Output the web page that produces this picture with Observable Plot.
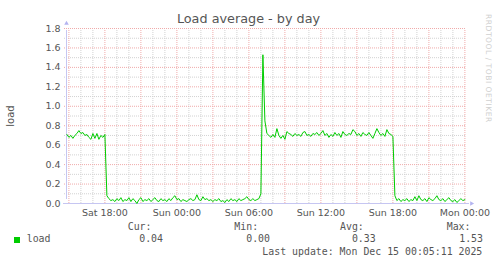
<!DOCTYPE html>
<html><head><meta charset="utf-8">
<script src="https://cdn.jsdelivr.net/npm/d3@7"></script>
<script src="https://cdn.jsdelivr.net/npm/@observablehq/plot@0.6"></script>
<style>
body{margin:0;background:#fff;}
#wrap{position:relative;width:497px;height:264px;background:#fff;overflow:hidden;font-family:"DejaVu Sans",sans-serif;color:#555;}
#title{position:absolute;left:0;width:497px;top:11px;text-align:center;font-size:12.8px;line-height:16px;color:#555;}
#chart{position:absolute;left:0;top:20px;}
#ylab{position:absolute;left:10px;top:116px;transform:translate(-50%,-50%) rotate(-90deg);font-size:10px;white-space:nowrap;}
#wm{position:absolute;left:484px;top:14px;writing-mode:vertical-rl;font-size:7.6px;letter-spacing:0.5px;color:#d0d0d0;white-space:nowrap;}
.mono{position:absolute;font-family:"DejaVu Sans Mono",monospace;font-size:9.9px;line-height:12px;white-space:pre;color:#555;}
#sw{position:absolute;left:14px;top:237px;width:6px;height:6px;background:#00cc00;}
</style>
</head><body>
<div id="wrap">
  <div id="title"></div>
  <div id="ylab"></div>
  <div id="wm"></div>
  <div id="chart"></div>
  <div id="sw"></div>
</div>
<script>
// ---- data (5-min RRD samples read every 10 minutes, starting Sat 13 Dec 2025 14:50 UTC)
const titleText = "Load average - by day";
const yLabel = "load";
const watermark = "RRDTOOL / TOBI OETIKER";
const seriesName = "load";
const sampleStart = Date.UTC(2025, 11, 13, 14, 50);
const sampleStepMin = 10;
const load = [
  0.71,0.68,0.70,0.67,0.70,0.72,0.75,0.72,0.73,0.70,
  0.71,0.68,0.66,0.72,0.67,0.72,0.66,0.70,0.68,0.71,
  0.08,0.05,0.03,0.04,0.02,0.05,0.03,0.06,0.02,0.04,
  0.03,0.06,0.02,0.05,0.03,0.00,0.04,0.06,0.02,0.04,
  0.03,0.05,0.02,0.04,0.06,0.03,0.02,0.05,0.03,0.04,
  0.02,0.05,0.03,0.06,0.08,0.04,0.05,0.02,0.04,0.03,
  0.02,0.04,0.05,0.03,0.04,0.09,0.04,0.03,0.07,0.04,
  0.05,0.03,0.04,0.02,0.04,0.03,0.05,0.02,0.03,0.01,
  0.04,0.02,0.05,0.03,0.04,0.02,0.05,0.03,0.04,0.05,
  0.07,0.04,0.03,0.05,0.03,0.04,0.05,0.10,1.53,0.85,
  0.72,0.70,0.68,0.71,0.68,0.77,0.70,0.67,0.70,0.66,
  0.74,0.72,0.71,0.69,0.72,0.70,0.71,0.69,0.73,0.74,
  0.70,0.71,0.69,0.72,0.71,0.73,0.70,0.72,0.75,0.70,
  0.72,0.68,0.71,0.69,0.73,0.70,0.72,0.68,0.74,0.71,
  0.70,0.72,0.71,0.76,0.74,0.70,0.72,0.69,0.73,0.71,
  0.70,0.73,0.70,0.67,0.72,0.77,0.73,0.70,0.72,0.69,
  0.76,0.72,0.71,0.69,0.08,0.03,0.05,0.02,0.04,0.03,
  0.05,0.02,0.04,0.03,0.07,0.03,0.08,0.04,0.03,0.05,
  0.02,0.06,0.04,0.03,0.05,0.08,0.04,0.03,0.05,0.02,
  0.04,0.06,0.03,0.02,0.04,0.01,0.03,0.05,0.03,0.04
];
const xStart = new Date(Date.UTC(2025, 11, 13, 14, 48));
const xEnd = new Date(Date.UTC(2025, 11, 15, 0, 8));
const xTicks = [
  new Date(Date.UTC(2025, 11, 13, 18)), new Date(Date.UTC(2025, 11, 14, 0)),
  new Date(Date.UTC(2025, 11, 14, 6)), new Date(Date.UTC(2025, 11, 14, 12)),
  new Date(Date.UTC(2025, 11, 14, 18)), new Date(Date.UTC(2025, 11, 15, 0))
];
const xTickLabels = ["Sat 18:00", "Sun 00:00", "Sun 06:00", "Sun 12:00", "Sun 18:00", "Mon 00:00"];
const yTicks = [0, 0.2, 0.4, 0.6, 0.8, 1.0, 1.2, 1.4, 1.6, 1.8];
const yMinor = [0.1, 0.3, 0.5, 0.7, 0.9, 1.1, 1.3, 1.5, 1.7];
const legendHeads = ["Cur:", "Min:", "Avg:", "Max:"];
const legendValues = ["0.04", "0.00", "0.33", "1.53"];
const lastUpdate = "Last update: Mon Dec 15 00:05:11 2025";

// ---- build
const data = load.map((v, i) => ({t: new Date(sampleStart + i * sampleStepMin * 60000), v}));
const labelMap = new Map(xTicks.map((d, i) => [+d, xTickLabels[i]]));
const hours = d3.utcHour.range(xStart, xEnd);
const majorHours = hours.filter(d => d.getUTCHours() % 3 === 0);
const minorHours = hours.filter(d => d.getUTCHours() % 3 !== 0);
const gridMinor = "#d2d2d2", gridMajor = "#f0aaaa", axisCol = "#c6c6f2";

const chart = Plot.plot({
  width: 497, height: 205,
  marginLeft: 66, marginRight: 31, marginTop: 8, marginBottom: 22,
  style: {fontFamily: "DejaVu Sans", fontSize: "9.5px", color: "#555", background: "transparent", overflow: "visible"},
  x: {type: "utc", domain: [xStart, xEnd], label: null},
  y: {domain: [0, 1.8], label: null},
  marks: [
    Plot.ruleY(yMinor, {stroke: gridMinor, strokeDasharray: "1,1", insetLeft: -2}),
    Plot.ruleX(minorHours, {y1: 0, y2: 1.8, stroke: gridMinor, strokeDasharray: "1,1", insetBottom: -2}),
    Plot.ruleY(yTicks, {stroke: gridMajor, strokeDasharray: "1,1", insetLeft: -2}),
    Plot.ruleX(majorHours, {y1: 0, y2: 1.8, stroke: gridMajor, strokeDasharray: "1,1", insetBottom: -2}),
    Plot.axisX(xTicks, {tickFormat: d => labelMap.get(+d), tickSize: 0, tickPadding: 6, fill: "#555", label: null}),
    Plot.axisY(yTicks, {tickFormat: d3.format(".1f"), tickSize: 0, tickPadding: 6, fill: "#555", label: null}),
    Plot.ruleY([0], {stroke: axisCol, insetLeft: -3, insetRight: -3}),
    Plot.ruleX([xStart], {y1: 0, y2: 1.8, stroke: axisCol, insetTop: -4, insetBottom: -2}),
    Plot.dot([xEnd], {x: d => d, y: () => 0, dx: 5, symbol: "triangle2", r: 2.2, rotate: 90, fill: "#b4b4f0", stroke: null}),
    Plot.dot([xStart], {x: d => d, y: () => 1.8, dy: -5, symbol: "triangle2", r: 2.2, fill: "#b4b4f0", stroke: null}),
    Plot.line(data, {x: "t", y: "v", stroke: "#00cc00", strokeWidth: 1})
  ]
});
document.getElementById("chart").appendChild(chart);
document.getElementById("title").textContent = titleText;
document.getElementById("ylab").textContent = yLabel;
document.getElementById("wm").textContent = watermark;

const wrap = document.getElementById("wrap");
function addText(txt, style) {
  const s = document.createElement("div");
  s.className = "mono";
  s.textContent = txt;
  Object.assign(s.style, style);
  wrap.appendChild(s);
}
const headLeft = [127.7, 234.3, 340, 446.7];
const valRight = [334, 227, 121.3, 14];
legendHeads.forEach((h, i) => addText(h, {left: headLeft[i] + "px", top: "221px"}));
legendValues.forEach((v, i) => addText(v, {right: valRight[i] + "px", top: "233px", textAlign: "right"}));
addText(seriesName, {left: "26.7px", top: "233px"});
addText(lastUpdate, {right: "14.7px", top: "245.5px", textAlign: "right"});
</script>
</body></html>
